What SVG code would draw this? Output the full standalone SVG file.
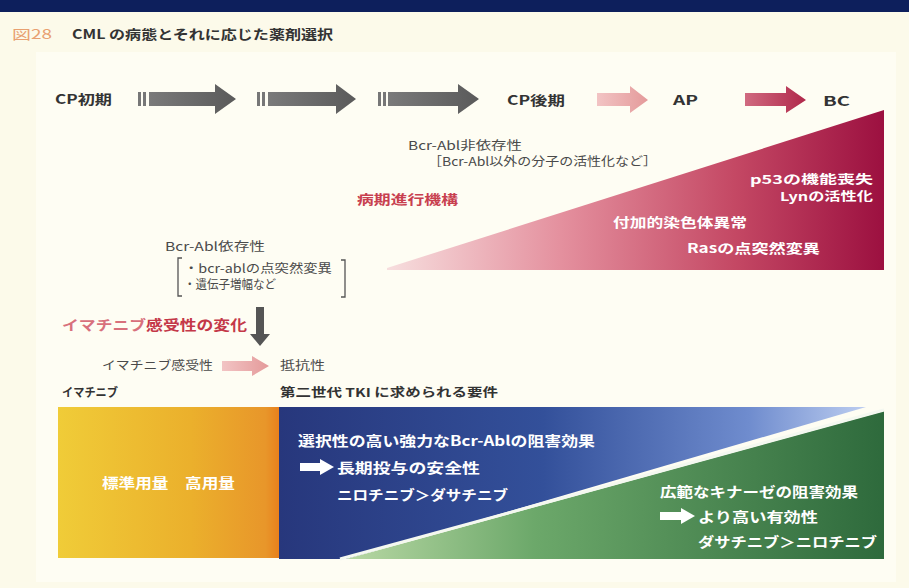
<svg xmlns="http://www.w3.org/2000/svg" width="909" height="588" viewBox="0 0 909 588">
<defs>
<style>
text{font-family:"Noto Sans CJK JP","Liberation Sans",sans-serif;}
.b{font-weight:bold;}
.dk{fill:#333333;}
.gy{fill:#4a4a4a;}
.w{fill:#ffffff;font-weight:bold;}
.red{fill:#c8404f;font-weight:bold;}
</style>
<linearGradient id="gGray" x1="0" y1="0" x2="1" y2="0"><stop offset="0" stop-color="#7a7a7a"/><stop offset="1" stop-color="#5a5a5a"/></linearGradient>
<linearGradient id="gPink" x1="0" y1="0" x2="1" y2="0"><stop offset="0" stop-color="#f2c4c4"/><stop offset="1" stop-color="#e49a9a"/></linearGradient>
<linearGradient id="gRed" x1="0" y1="0" x2="1" y2="0"><stop offset="0" stop-color="#d06a80"/><stop offset="1" stop-color="#b0284a"/></linearGradient>
<linearGradient id="gTri" x1="0" y1="0" x2="1" y2="0"><stop offset="0" stop-color="#f7dede"/><stop offset="0.35" stop-color="#e4909e"/><stop offset="0.7" stop-color="#c44864"/><stop offset="1" stop-color="#9c1040"/></linearGradient>
<linearGradient id="gOr" x1="0" y1="0" x2="1" y2="0"><stop offset="0" stop-color="#f0cc38"/><stop offset="0.6" stop-color="#ebb02c"/><stop offset="0.94" stop-color="#e8962a"/><stop offset="1" stop-color="#e8801c"/></linearGradient>
<linearGradient id="gBl" x1="0" y1="0" x2="1" y2="0"><stop offset="0" stop-color="#27377c"/><stop offset="0.45" stop-color="#33509a"/><stop offset="0.8" stop-color="#6f8cce"/><stop offset="1" stop-color="#bccdf0"/></linearGradient>
<linearGradient id="gGr" x1="0" y1="0" x2="1" y2="0"><stop offset="0" stop-color="#b8d8a4"/><stop offset="0.35" stop-color="#6ca86a"/><stop offset="1" stop-color="#2e6a3c"/></linearGradient>
</defs>
<rect width="909" height="588" fill="#fcfaea"/>
<rect x="36" y="52" width="860" height="530" fill="#fefdf3"/>
<rect x="0" y="0" width="909" height="12" fill="#0d1f5c"/>

<g id="title">
<text x="12" y="39" font-size="13" fill="#e8a070" textLength="40" lengthAdjust="spacingAndGlyphs">図28</text>
<text x="72" y="39" font-size="13" class="b dk" textLength="261" lengthAdjust="spacingAndGlyphs">CML の病態とそれに応じた薬剤選択</text>
</g>

<g id="stages">
<g id="cp-early"><text x="55" y="104" font-size="13" class="b dk" textLength="57" lengthAdjust="spacingAndGlyphs">CP初期</text></g>
<g id="cp-late"><text x="507" y="105" font-size="13" class="b dk" textLength="58" lengthAdjust="spacingAndGlyphs">CP後期</text></g>
<g id="ap"><text x="673" y="105" font-size="13" class="b dk" textLength="25" lengthAdjust="spacingAndGlyphs">AP</text></g>
<g id="bc"><text x="823" y="106" font-size="13" class="b dk" textLength="27" lengthAdjust="spacingAndGlyphs">BC</text></g>
</g>

<g id="connectors">
<g id="arr1" fill="url(#gGray)">
<rect x="138" y="92" width="3" height="14" fill="#777"/><rect x="143" y="92" width="3" height="14" fill="#777"/>
<polygon points="149,92 215,92 215,84 236,99 215,114 215,106 149,106"/>
</g>
<g id="arr2" fill="url(#gGray)">
<rect x="257" y="92" width="3" height="14" fill="#777"/><rect x="262" y="92" width="3" height="14" fill="#777"/>
<polygon points="268,92 336,92 336,84 356,99 336,114 336,106 268,106"/>
</g>
<g id="arr3" fill="url(#gGray)">
<rect x="378" y="92" width="3" height="14" fill="#777"/><rect x="383" y="92" width="3" height="14" fill="#777"/>
<polygon points="388,92 458,92 458,84 479,99 458,114 458,106 388,106"/>
</g>
<polygon id="arr4" fill="url(#gPink)" points="597,93 630,93 630,86 648,100 630,113 630,106 597,106"/>
<polygon id="arr5" fill="url(#gRed)" points="745,93 786,93 786,86 806,100 786,113 786,106 745,106"/>
<polygon id="arr-down" fill="#555" points="256,307 264,307 264,334 270,334 260,346 250,334 256,334"/>
<polygon id="arr-res" fill="url(#gPink)" points="222,361 252,361 252,356 269,366 252,376 252,371 222,371"/>
</g>

<g id="progression">
<polygon points="387,268 884,110 884,270 387,270" fill="url(#gTri)"/>
<text x="750" y="184" font-size="12" class="w" textLength="123" lengthAdjust="spacingAndGlyphs">p53の機能喪失</text>
<text x="780" y="201" font-size="12" class="w" textLength="93" lengthAdjust="spacingAndGlyphs">Lynの活性化</text>
<text x="613" y="227" font-size="13" class="w" textLength="134" lengthAdjust="spacingAndGlyphs">付加的染色体異常</text>
<text x="687" y="253" font-size="13" class="w" textLength="133" lengthAdjust="spacingAndGlyphs">Rasの点突然変異</text>
</g>

<g id="mechanism">
<text x="408" y="150" font-size="12" class="gy" textLength="114" lengthAdjust="spacingAndGlyphs">Bcr-Abl非依存性</text>
<text x="428" y="166" font-size="12" class="gy" textLength="229" lengthAdjust="spacingAndGlyphs">［Bcr-Abl以外の分子の活性化など］</text>
<text x="357" y="204" font-size="13" class="red" textLength="101" lengthAdjust="spacingAndGlyphs">病期進行機構</text>
</g>

<g id="dependent">
<text x="165" y="251" font-size="12" class="gy" textLength="100" lengthAdjust="spacingAndGlyphs">Bcr-Abl依存性</text>
<path d="M182,258 H178 V296 H182 M341,260 H345 V297 H341" fill="none" stroke="#555" stroke-width="1.3"/>
<text x="184" y="273" font-size="12" class="gy" textLength="148" lengthAdjust="spacingAndGlyphs">・bcr-ablの点突然変異</text>
<text x="184" y="289" font-size="12" class="gy" textLength="92" lengthAdjust="spacingAndGlyphs">・遺伝子増幅など</text>
</g>

<g id="sensitivity">
<text x="62" y="330" font-size="14" font-weight="bold" textLength="185" lengthAdjust="spacingAndGlyphs"><tspan fill="#d8707c">イマチニブ</tspan><tspan fill="#c43848">感受性の変化</tspan></text>
<text x="102" y="370" font-size="12" class="gy" textLength="111" lengthAdjust="spacingAndGlyphs">イマチニブ感受性</text>
<text x="280" y="370" font-size="12" class="gy" textLength="45" lengthAdjust="spacingAndGlyphs">抵抗性</text>
</g>

<g id="headers">
<text x="62" y="397" font-size="12" class="b dk" textLength="56" lengthAdjust="spacingAndGlyphs">イマチニブ</text>
<text x="280" y="397" font-size="12" class="b dk" textLength="218" lengthAdjust="spacingAndGlyphs">第二世代 TKI に求められる要件</text>
</g>

<g id="imatinib">
<rect x="58" y="407" width="221" height="151" fill="url(#gOr)"/>
<text x="102" y="488" font-size="14" class="w" textLength="133" lengthAdjust="spacingAndGlyphs">標準用量　高用量</text>
</g>

<g id="nilotinib">
<polygon points="279,407 866,407 346,559 279,559" fill="url(#gBl)"/>
<text x="298" y="446" font-size="14" class="w" textLength="297" lengthAdjust="spacingAndGlyphs">選択性の高い強力なBcr-Ablの阻害効果</text>
<polygon fill="#ffffff" points="300,463 320,463 320,459 334,467 320,475 320,471 300,471"/>
<text x="337" y="473" font-size="14" class="w" textLength="143" lengthAdjust="spacingAndGlyphs">長期投与の安全性</text>
<text x="337" y="500" font-size="14" class="w" textLength="171" lengthAdjust="spacingAndGlyphs">ニロチニブ＞ダサチニブ</text>
</g>

<g id="dasatinib">
<polygon points="346,559 884,411 884,559" fill="url(#gGr)"/>
<line x1="340" y1="559" x2="884" y2="410" stroke="#f4f8f0" stroke-width="3"/>
<text x="660" y="497" font-size="14" class="w" textLength="198" lengthAdjust="spacingAndGlyphs">広範なキナーゼの阻害効果</text>
<polygon fill="#ffffff" points="660,512 681,512 681,508 695,516 681,524 681,520 660,520"/>
<text x="698" y="522" font-size="14" class="w" textLength="120" lengthAdjust="spacingAndGlyphs">より高い有効性</text>
<text x="698" y="547" font-size="14" class="w" textLength="179" lengthAdjust="spacingAndGlyphs">ダサチニブ＞ニロチニブ</text>
</g>
</svg>
